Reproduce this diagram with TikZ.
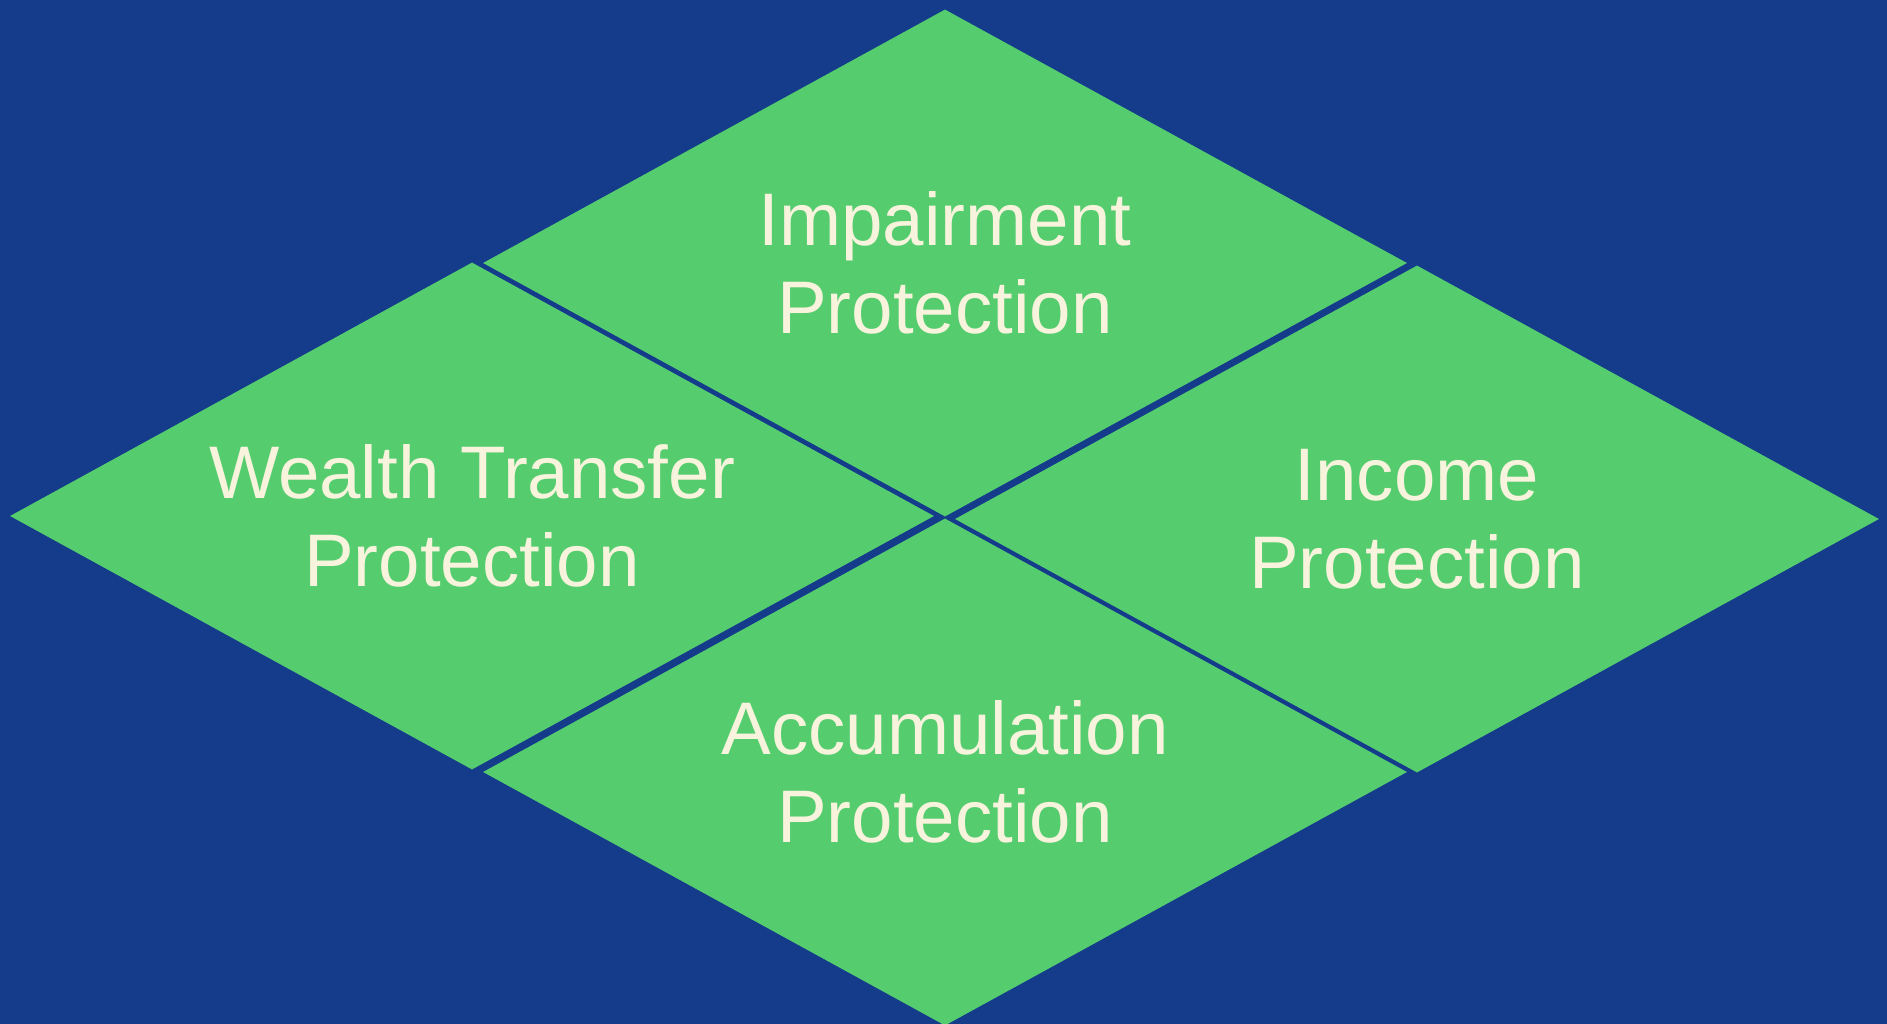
\documentclass[tikz,border=0pt]{standalone}
\usepackage{fontspec}
\setmainfont{Liberation Sans}
\usetikzlibrary{shapes.geometric}
\definecolor{bgblue}{RGB}{20,60,138}
\definecolor{leafgreen}{RGB}{85,205,111}
\definecolor{cream}{RGB}{247,243,220}

\begin{document}
\begin{tikzpicture}[x=1pt,y=-1pt,
  area/.style={diamond,fill=leafgreen,aspect=1.82,minimum width=924pt,
    minimum height=507pt,inner sep=0pt,text=cream,align=center,
    font=\fontsize{74.5}{88}\selectfont}]
% background
\useasboundingbox (0,0) rectangle (1887,1023);
\fill[bgblue] (-5,-5) rectangle (1892,1028);

% the four areas
\node[area] (impairment) at (945,263) {Impairment\\Protection};
\node[area] (wealth) at (472,516) {Wealth Transfer\\Protection};
\node[area] (income) at (1417,519) {Income\\Protection};
\node[area] (accumulation) at (945,772) {Accumulation\\Protection};

\end{tikzpicture}
\end{document}
